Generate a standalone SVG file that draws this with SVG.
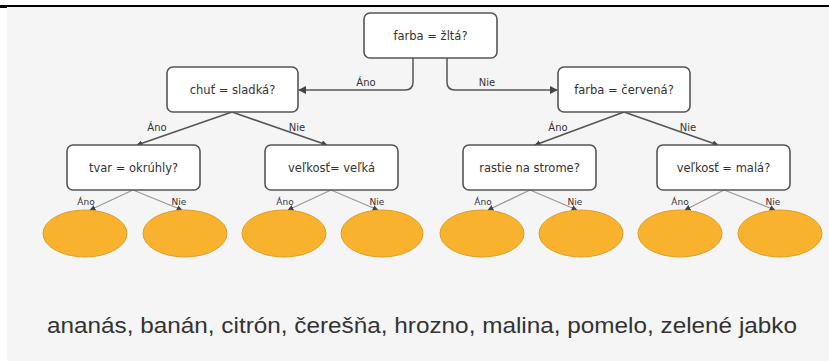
<svg xmlns="http://www.w3.org/2000/svg" width="829" height="361" viewBox="0 0 829 361">
<defs>
<style>
.box{fill:#fff;stroke:#555;stroke-width:1.6}
.nt{font-family:"DejaVu Sans",sans-serif;font-size:11.5px;fill:#333;text-anchor:middle}
.lb{font-family:"DejaVu Sans",sans-serif;font-size:10px;fill:#333;text-anchor:middle}
.lbs{font-family:"DejaVu Sans",sans-serif;font-size:9px;fill:#333;text-anchor:middle}
.leaf{fill:#f8b22e;stroke:#dca02a;stroke-width:1}
.e1{fill:none;stroke:#555;stroke-width:1.5}
.e2{fill:none;stroke:#999;stroke-width:1.2}
</style>
<marker id="ah" viewBox="0 0 10 10" refX="9" refY="5" markerWidth="6" markerHeight="6" markerUnits="userSpaceOnUse" orient="auto">
<path d="M0,0 L10,5 L0,10 z" fill="#444"/>
</marker>
<marker id="ah2" viewBox="0 0 10 10" refX="9" refY="5" markerWidth="8" markerHeight="8" markerUnits="userSpaceOnUse" orient="auto">
<path d="M0,0 L10,5 L0,10 z" fill="#444"/>
</marker>
</defs>
<rect x="0" y="0" width="829" height="361" fill="#fff"/>
<rect x="7" y="7" width="822" height="354" fill="#f5f5f5"/>
<line x1="0" y1="6" x2="829" y2="6" stroke="#000" stroke-width="2"/>
<rect x="0" y="5" width="7" height="3" fill="#000"/>

<g id="connectors">
<path class="e1" d="M413,58 V82 Q413,90 405,90 H299" marker-end="url(#ah2)"/>
<path class="e1" d="M447,58 V82 Q447,90 455,90 H557" marker-end="url(#ah2)"/>
<path class="e1" d="M232,112 L137,145" marker-end="url(#ah)"/>
<path class="e1" d="M232,112 L327,145" marker-end="url(#ah)"/>
<path class="e1" d="M624,112 L535,145" marker-end="url(#ah)"/>
<path class="e1" d="M624,112 L718,145" marker-end="url(#ah)"/>
<path class="e2" d="M133,190 L90,210" marker-end="url(#ah)"/>
<path class="e2" d="M133,190 L182,210" marker-end="url(#ah)"/>
<path class="e2" d="M331,190 L288,210" marker-end="url(#ah)"/>
<path class="e2" d="M331,190 L378,210" marker-end="url(#ah)"/>
<path class="e2" d="M530,190 L488,210" marker-end="url(#ah)"/>
<path class="e2" d="M530,190 L577,210" marker-end="url(#ah)"/>
<path class="e2" d="M724,190 L685,210" marker-end="url(#ah)"/>
<path class="e2" d="M724,190 L775,210" marker-end="url(#ah)"/>
<text class="lb" x="366" y="86">Áno</text>
<text class="lb" x="487" y="86">Nie</text>
<text class="lb" x="157" y="131">Áno</text>
<text class="lb" x="297" y="131">Nie</text>
<text class="lb" x="558" y="131">Áno</text>
<text class="lb" x="688" y="131">Nie</text>
<text class="lbs" x="86" y="205">Áno</text>
<text class="lbs" x="179" y="205">Nie</text>
<text class="lbs" x="285" y="205">Áno</text>
<text class="lbs" x="377" y="205">Nie</text>
<text class="lbs" x="483" y="205">Áno</text>
<text class="lbs" x="575" y="205">Nie</text>
<text class="lbs" x="680" y="205">Áno</text>
<text class="lbs" x="773" y="205">Nie</text>
</g>

<g id="root"><rect class="box" x="364" y="13" width="133" height="45" rx="6"/><text class="nt" x="430.5" y="40">farba = žltá?</text></g>
<g id="chut"><rect class="box" x="167" y="67" width="131" height="45" rx="6"/><text class="nt" x="232.5" y="94">chuť = sladká?</text></g>
<g id="cervena"><rect class="box" x="558" y="67" width="132" height="45" rx="6"/><text class="nt" x="624" y="94">farba = červená?</text></g>
<g id="tvar"><rect class="box" x="67" y="145" width="133" height="45" rx="6"/><text class="nt" x="133.5" y="172">tvar = okrúhly?</text></g>
<g id="velka"><rect class="box" x="265" y="145" width="133" height="45" rx="6"/><text class="nt" x="331.5" y="172">veľkosť= veľká</text></g>
<g id="strom"><rect class="box" x="463" y="145" width="133" height="45" rx="6"/><text class="nt" x="529.5" y="172">rastie na strome?</text></g>
<g id="mala"><rect class="box" x="657" y="145" width="133" height="45" rx="6"/><text class="nt" x="723.5" y="172">veľkosť = malá?</text></g>

<g id="leaf1"><ellipse class="leaf" cx="85" cy="233.5" rx="42" ry="23.5"/></g>
<g id="leaf2"><ellipse class="leaf" cx="185" cy="233.5" rx="42" ry="23.5"/></g>
<g id="leaf3"><ellipse class="leaf" cx="284" cy="233.5" rx="42" ry="23.5"/></g>
<g id="leaf4"><ellipse class="leaf" cx="382" cy="233.5" rx="41" ry="23.5"/></g>
<g id="leaf5"><ellipse class="leaf" cx="482" cy="233.5" rx="42" ry="23.5"/></g>
<g id="leaf6"><ellipse class="leaf" cx="581" cy="233.5" rx="42" ry="23.5"/></g>
<g id="leaf7"><ellipse class="leaf" cx="680" cy="233.5" rx="42" ry="23.5"/></g>
<g id="leaf8"><ellipse class="leaf" cx="780" cy="233.5" rx="42" ry="23.5"/></g>

<text x="422" y="333" font-family="'Liberation Sans',Arial,sans-serif" font-size="22" fill="#333" text-anchor="middle" textLength="750" lengthAdjust="spacingAndGlyphs">ananás, banán, citrón, čerešňa, hrozno, malina, pomelo, zelené jabko</text>
</svg>
